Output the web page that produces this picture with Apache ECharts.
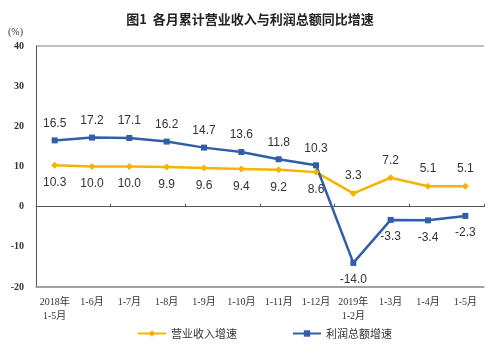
<!DOCTYPE html>
<html><head><meta charset="utf-8">
<script src="https://cdn.jsdelivr.net/npm/echarts@6/dist/echarts.min.js"></script>
<style>html,body{margin:0;padding:0;background:#fff}#c{width:500px;height:353px}</style>
</head><body><div id="c"></div>
<script>
const categories = ['2018年\n1-5月','1-6月','1-7月','1-8月','1-9月','1-10月','1-11月','1-12月','2019年\n1-2月','1-3月','1-4月','1-5月'];
const revenue = [10.3,10.0,10.0,9.9,9.6,9.4,9.2,8.6,3.3,7.2,5.1,5.1];
const profit = [16.5,17.2,17.1,16.2,14.7,13.6,11.8,10.3,-14.0,-3.3,-3.4,-2.3];
const yTicks = [-20,-10,0,10,20,30,40];
const revenueName = '营业收入增速';
const profitName = '利润总额增速';

const chart = echarts.init(document.getElementById('c'));
const serif = '"Liberation Serif","Noto Sans CJK SC",serif';
const sans = '"Liberation Sans",Arial,sans-serif';
chart.setOption({
  animation:false,
  title:{text:'图1  各月累计营业收入与利润总额同比增速',left:'center',top:8,
    textStyle:{fontSize:13,fontWeight:'bold',color:'#222',fontFamily:'"Noto Sans CJK SC",sans-serif'}},
  graphic:[{type:'text',left:8,top:27,style:{text:'(%)',fontSize:10,fill:'#333',fontFamily:serif}}],
  legend:{bottom:9,left:132,itemGap:55,itemWidth:28,itemHeight:8,
    textStyle:{fontSize:11,color:'#333',fontFamily:'"Noto Sans CJK SC",sans-serif'},
    data:[revenueName,profitName]},
  grid:{left:36,right:16,top:46,bottom:66},
  xAxis:[{type:'category',data:categories,position:'bottom',
      axisLine:{onZero:false,lineStyle:{color:'#999',width:1.5}},
      axisTick:{show:false},
      axisLabel:{interval:0,fontSize:10,color:'#333',fontFamily:serif,margin:8,lineHeight:14}},
    {type:'category',data:categories,position:'top',
      axisLine:{onZero:true,lineStyle:{color:'#555',width:1}},
      axisTick:{show:true,length:3,lineStyle:{color:'#555'}},
      axisLabel:{show:false}}],
  yAxis:{type:'value',min:-20,max:40,interval:10,
    axisLine:{show:true,lineStyle:{color:'#555'}},axisTick:{show:false},
    axisLabel:{fontSize:10,fontWeight:'bold',color:'#333',fontFamily:serif,margin:12,
      formatter:v=>yTicks.includes(v)?String(v):''},
    splitLine:{show:true,lineStyle:{color:['#aaa','transparent','transparent','transparent','transparent','transparent','#aaa'],width:1.5}}},
  series:[
    {name:revenueName,type:'line',data:revenue.map((v,i)=>({value:v,label:{position:i>=8?'top':'bottom'}})),
      symbol:'diamond',symbolSize:7,itemStyle:{color:'#F4B400'},lineStyle:{color:'#F4B400',width:2.5},
      label:{show:true,formatter:p=>p.value.toFixed(1),fontSize:12,color:'#333',fontFamily:sans,distance:8}},
    {name:profitName,type:'line',data:profit.map((v,i)=>({value:v,label:{position:v<0?'bottom':'top'}})),
      symbol:'rect',symbolSize:6,itemStyle:{color:'#2E5FA8'},lineStyle:{color:'#2E5FA8',width:2.5},
      label:{show:true,formatter:p=>p.value.toFixed(1),fontSize:12,color:'#333',fontFamily:sans,distance:8}}
  ]
});
</script></body></html>
